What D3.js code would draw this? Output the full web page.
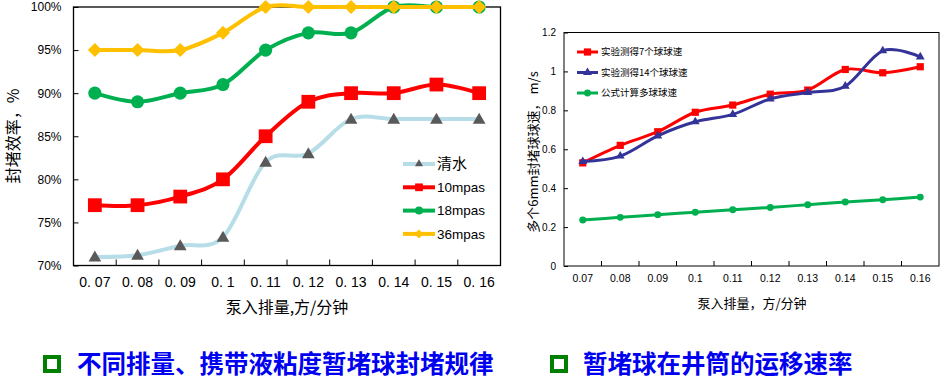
<!DOCTYPE html>
<meta charset="utf-8">
<style>
body { margin: 0; background: #fff; }
svg text { font-family: "Liberation Sans", "Noto Sans CJK SC", sans-serif; }
.cjk { font-family: "Noto Sans CJK SC", sans-serif; }
</style>
<svg width="945" height="386"></svg>
<script src="https://d3js.org/d3.v7.min.js"></script>
<script>

// chart 1: sealing efficiency by pump rate and carrier viscosity
let cats = ["0.07", "0.08", "0.09", "0.1", "0.11", "0.12", "0.13", "0.14", "0.15", "0.16"];
let leftTickLabels = ["0. 07", "0. 08", "0. 09", "0. 1", "0. 11", "0. 12", "0. 13", "0. 14", "0. 15", "0. 16"];
let leftNames = ["清水", "10mpas", "18mpas", "36mpas"];
let water = [0.71, 0.712, 0.723, 0.733, 0.82, 0.83, 0.87, 0.87, 0.87, 0.87];
let mpas10 = [0.77, 0.77, 0.78, 0.80, 0.85, 0.89, 0.90, 0.90, 0.91, 0.90];
let mpas18 = [0.90, 0.89, 0.90, 0.91, 0.95, 0.97, 0.97, 1.00, 1.00, 1.00];
let mpas36 = [0.95, 0.95, 0.95, 0.97, 1.00, 1.00, 1.00, 1.00, 1.00, 1.00];
let leftYTicks = [0.70, 0.75, 0.80, 0.85, 0.90, 0.95, 1.00];

// chart 2: ball velocity in the wellbore
let rightNames = ["实验测得7个球球速", "实验测得14个球球速", "公式计算多球球速"];
let balls7 = [0.53, 0.62, 0.69, 0.79, 0.827, 0.883, 0.904, 1.01, 0.993, 1.024];
let balls14 = [0.537, 0.565, 0.669, 0.741, 0.779, 0.859, 0.892, 0.924, 1.106, 1.075];
let formula = [0.236, 0.25, 0.264, 0.276, 0.289, 0.301, 0.315, 0.329, 0.341, 0.354];
let rightYTicks = [0, 0.2, 0.4, 0.6, 0.8, 1, 1.2];

let captions = ["不同排量、携带液粘度暂堵球封堵规律", "暂堵球在井筒的运移速率"];

let svg = d3.select("svg");
let curve = d3.curveCatmullRom.alpha(0);

function diamond(s) {
  return "M0," + (-s) + "L" + s + ",0L0," + s + "L" + (-s) + ",0Z";
}

// ---------- left chart ----------
let L = { left: 73.5, right: 500.5, top: 7, bottom: 265.5 };
let x1 = d3.scaleBand().domain(cats).range([L.left, L.right]);
let y1 = d3.scaleLinear().domain([0.7, 1]).range([L.bottom, L.top]);
let cx1 = c => x1(c) + x1.bandwidth() / 2;

let g1 = svg.append("g");
g1.append("rect").attr("x", L.left).attr("y", L.top)
  .attr("width", L.right - L.left).attr("height", L.bottom - L.top)
  .attr("fill", "none").attr("stroke", "#000").attr("stroke-width", 1.3);

g1.append("g").attr("transform", "translate(" + L.left + ",0)")
  .call(d3.axisLeft(y1).tickValues(leftYTicks).tickFormat(d3.format(".0%")).tickSizeInner(-5).tickSizeOuter(0).tickPadding(12))
  .call(g => g.select(".domain").remove())
  .call(g => g.selectAll("text").attr("font-size", 12).attr("fill", "#000"));

g1.append("g").attr("transform", "translate(0," + L.bottom + ")")
  .call(d3.axisBottom(x1).tickSize(0).tickPadding(12).tickFormat((d, i) => leftTickLabels[i]))
  .call(g => g.select(".domain").remove())
  .call(g => g.selectAll("text").attr("font-size", 14).attr("fill", "#000"));

g1.selectAll(".vtick").data(cats.slice(1)).enter().append("line")
  .attr("x1", d => x1(d)).attr("x2", d => x1(d))
  .attr("y1", L.bottom).attr("y2", L.bottom - 6)
  .attr("stroke", "#000");

g1.append("text").attr("class", "cjk").attr("x", 287).attr("y", 313)
  .attr("text-anchor", "middle").attr("font-size", 16).text("泵入排量,方/分钟");
g1.append("text").attr("class", "cjk")
  .attr("transform", "translate(19,136) rotate(-90)")
  .attr("text-anchor", "middle").attr("font-size", 16).text("封堵效率，%");

let leftSeries = [
  { name: leftNames[0], values: water, line: "#b7dee8", mark: "#595959", type: "tri" },
  { name: leftNames[1], values: mpas10, line: "#ff0000", mark: "#ff0000", type: "sq" },
  { name: leftNames[2], values: mpas18, line: "#00b050", mark: "#00b050", type: "circ" },
  { name: leftNames[3], values: mpas36, line: "#ffc000", mark: "#ffc000", type: "dia" }
];

let bigMarks = {
  tri: d3.symbol(d3.symbolTriangle, 70)(),
  sq: d3.symbol(d3.symbolSquare, 190)(),
  circ: d3.symbol(d3.symbolCircle, 135)(),
  dia: diamond(7)
};

let line1 = d3.line().curve(curve).x((d, i) => cx1(cats[i])).y(d => y1(d));
leftSeries.forEach(s => {
  g1.append("path").attr("d", line1(s.values)).attr("fill", "none")
    .attr("stroke", s.line).attr("stroke-width", 4);
  g1.selectAll(null).data(s.values).enter().append("path")
    .attr("d", bigMarks[s.type])
    .attr("transform", (d, i) => "translate(" + cx1(cats[i]) + "," + (y1(d) + (s.type == "tri" ? 1 : 0)) + ")")
    .attr("fill", s.mark);
});

// legend left
let leg1 = g1.append("g");
leftSeries.forEach((s, i) => {
  let ly = 164 + i * 23.3;
  leg1.append("line").attr("x1", 403).attr("x2", 435).attr("y1", ly).attr("y2", ly)
    .attr("stroke", s.line).attr("stroke-width", 4);
  let m = s.type == "tri" ? d3.symbol(d3.symbolTriangle, 28)() :
          s.type == "sq" ? d3.symbol(d3.symbolSquare, 60)() :
          s.type == "circ" ? d3.symbol(d3.symbolCircle, 50)() : diamond(4.5);
  leg1.append("path").attr("d", m).attr("transform", "translate(419," + ly + ")").attr("fill", s.mark);
  leg1.append("text").attr("x", 437).attr("y", ly).attr("dy", "0.35em")
    .attr("font-size", s.type == "tri" ? 15 : 13.5).text(s.name);
});

// ---------- right chart ----------
let R = { left: 564, right: 939, top: 32.5, bottom: 266 };
let x2 = d3.scaleBand().domain(cats).range([R.left, R.right]);
let y2 = d3.scaleLinear().domain([0, 1.2]).range([R.bottom, R.top]);
let cx2 = c => x2(c) + x2.bandwidth() / 2;

let g2 = svg.append("g");
g2.append("rect").attr("x", R.left).attr("y", R.top)
  .attr("width", R.right - R.left).attr("height", R.bottom - R.top)
  .attr("fill", "none").attr("stroke", "#000").attr("stroke-width", 1);
g2.append("line").attr("x1", R.left).attr("x2", R.left).attr("y1", R.top).attr("y2", R.bottom)
  .attr("stroke", "#808080");

g2.append("g").attr("transform", "translate(" + R.left + ",0)")
  .call(d3.axisLeft(y2).tickValues(rightYTicks).tickFormat(d => d).tickSizeInner(-4).tickSizeOuter(0).tickPadding(8))
  .call(g => g.select(".domain").remove())
  .call(g => g.selectAll("text").attr("font-size", 10).attr("fill", "#000"));

g2.append("g").attr("transform", "translate(0," + R.bottom + ")")
  .call(d3.axisBottom(x2).tickSize(0).tickPadding(9))
  .call(g => g.select(".domain").remove())
  .call(g => g.selectAll("text").attr("font-size", 10.5).attr("fill", "#000"));

g2.selectAll(".vtick").data(cats.slice(1)).enter().append("line")
  .attr("x1", d => x2(d)).attr("x2", d => x2(d))
  .attr("y1", R.bottom).attr("y2", R.bottom - 5)
  .attr("stroke", "#000");

g2.append("text").attr("class", "cjk").attr("x", 752).attr("y", 308)
  .attr("text-anchor", "middle").attr("font-size", 13).text("泵入排量，方/分钟");
g2.append("text").attr("class", "cjk")
  .attr("transform", "translate(538,152) rotate(-90)")
  .attr("text-anchor", "middle").attr("font-size", 13).text("多个6mm封堵球球速， m/s");

let rightSeries = [
  { name: rightNames[0], values: balls7, color: "#ff0000", mark: d3.symbol(d3.symbolSquare, 52)() },
  { name: rightNames[1], values: balls14, color: "#333399", mark: d3.symbol(d3.symbolTriangle, 34)() },
  { name: rightNames[2], values: formula, color: "#00b050", mark: d3.symbol(d3.symbolCircle, 38)() }
];

let line2 = d3.line().curve(curve).x((d, i) => cx2(cats[i])).y(d => y2(d));
rightSeries.forEach(s => {
  g2.append("path").attr("d", line2(s.values)).attr("fill", "none")
    .attr("stroke", s.color).attr("stroke-width", 3);
  g2.selectAll(null).data(s.values).enter().append("path")
    .attr("d", s.mark)
    .attr("transform", (d, i) => "translate(" + cx2(cats[i]) + "," + y2(d) + ")")
    .attr("fill", s.color);
});

let leg2 = g2.append("g");
rightSeries.forEach((s, i) => {
  let ly = 52 + i * 20.5;
  leg2.append("line").attr("x1", 577).attr("x2", 598).attr("y1", ly).attr("y2", ly)
    .attr("stroke", s.color).attr("stroke-width", 3);
  leg2.append("path").attr("d", s.mark).attr("transform", "translate(587.5," + ly + ")").attr("fill", s.color);
  leg2.append("text").attr("class", "cjk").attr("x", 601).attr("y", ly).attr("dy", "0.35em")
    .attr("font-size", 9.5).text(s.name);
});

// ---------- captions ----------
let capX = [43, 550];
let textX = [77, 583];
captions.forEach((c, i) => {
  svg.append("rect").attr("x", capX[i] + 2).attr("y", 357).attr("width", 14).attr("height", 14)
    .attr("fill", "#fff").attr("stroke", "#008000").attr("stroke-width", 4);
  svg.append("text").attr("class", "cjk").attr("x", textX[i]).attr("y", 364)
    .attr("dy", "0.35em").attr("font-size", 24.5).attr("font-weight", "bold")
    .attr("fill", "#0000f0").text(c);
});

</script>
